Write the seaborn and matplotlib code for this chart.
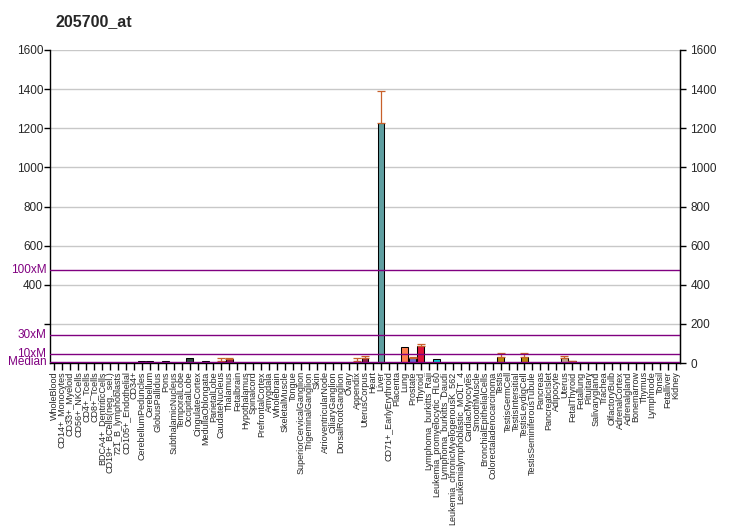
import matplotlib
matplotlib.use("Agg")
import matplotlib.pyplot as plt
import matplotlib.transforms as mtransforms
import seaborn as sns
import pandas as pd
import numpy as np

title = "205700_at"

tissues = [
    "WholeBlood", "CD14+_Monocytes", "CD33+_Myeloid", "CD56+_NKCells", "CD4+_Tcells",
    "CD8+_Tcells", "BDCA4+_DentriticCells", "CD19+_BCells(neg._sel.)", "721_B_lymphoblasts",
    "CD105+_Endothelial", "CD34+", "CerebellumPeduncles", "Cerebellum", "GlobusPallidus",
    "Pons", "SubthalamicNucleus", "TemporalLobe", "OccipitalLobe", "CingulateCortex",
    "MedullaOblongata", "ParietalLobe", "CaudateNucleus", "Thalamus", "Fetalbrain",
    "Hypothalamus", "Spinalcord", "PrefrontalCortex", "Amygdala", "Wholebrain",
    "SkeletalMuscle", "Tongue", "SuperiorCervicalGanglion", "TrigeminalGanglion", "Skin",
    "AtrioventricularNode", "CiliaryGanglion", "DorsalRootGanglion", "Ovary", "Appendix",
    "UterusCorpus", "Heart", "Liver", "CD71+_EarlyErythroid", "Placenta", "Lung",
    "Prostate", "Thyroid", "Lymphoma_burkitts_Raji", "Leukemia_promyelocytic_HL60",
    "Lymphoma_burkitts_Daudi", "Leukemia_chronicMyelogenousK_562",
    "Leukemialymphoblastic_MOLT_4", "CardiacMyocytes", "SmoothMuscle",
    "BronchialEpithelialCells", "Colorectaladenocarcinoma", "Testis", "TestisGermCell",
    "TestisIntersitial", "TestisLeydigCell", "TestisSeminiferousTubule", "Pancreas",
    "PancreaticIslet", "Adipocyte", "Uterus", "FetalThyroid", "Fetallung", "Pituitary",
    "Salivarygland", "Trachea", "OlfactoryBulb", "AdrenalCortex", "Adrenalgland",
    "Bonemarrow", "Thymus", "Lymphnode", "Tonsil", "Fetalliver", "Kidney",
]

values = [
    3, 3, 3, 3, 3,
    3, 3, 3, 3,
    3, 3, 8, 8, 3,
    8, 3, 3, 25, 3,
    8, 3, 12, 20, 3,
    3, 3, 3, 6, 6,
    3, 3, 3, 3, 3,
    3, 3, 3, 3, 10,
    27, 3, 1225, 3, 3, 80,
    27, 87, 5, 20,
    5, 3,
    3, 3, 3,
    3, 3, 30, 5,
    5, 30, 3, 3,
    3, 3, 27, 10, 5, 3,
    3, 3, 3, 3, 3,
    3, 3, 3, 3, 3, 3,
]

errors = [
    0, 0, 0, 0, 0,
    0, 0, 0, 0,
    0, 0, 0, 0, 0,
    0, 0, 0, 0, 0,
    0, 0, 13, 4, 0,
    0, 0, 0, 0, 0,
    0, 0, 0, 0, 0,
    0, 0, 0, 0, 14,
    10, 0, 165, 0, 0, 0,
    5, 10, 0, 0,
    0, 0,
    0, 0, 0,
    0, 0, 20, 0,
    0, 20, 0, 0,
    0, 0, 8, 2, 0, 0,
    0, 0, 0, 0, 0,
    0, 0, 0, 0, 0, 0,
]

colors = [
    "#8a2b8a", "#8a2b8a", "#8a2b8a", "#8a2b8a", "#8a2b8a",
    "#8a2b8a", "#8a2b8a", "#8a2b8a", "#8a2b8a",
    "#8a2b8a", "#8a2b8a", "#b5487f", "#b5487f", "#b5487f",
    "#b5487f", "#b5487f", "#b5487f", "#2e4a3e", "#b5487f",
    "#b5487f", "#b5487f", "#5a3a4a", "#8b1a3a", "#b5487f",
    "#b5487f", "#b5487f", "#b5487f", "#5a1a5a", "#5a1a5a",
    "#8a2b8a", "#8a2b8a", "#8a2b8a", "#8a2b8a", "#8a2b8a",
    "#8a2b8a", "#8a2b8a", "#8a2b8a", "#8a2b8a", "#9a2aa0",
    "#8b2040", "#8a2b8a", "#5f9ea0", "#8a2b8a", "#8a2b8a", "#ff7f50",
    "#6a6fd0", "#dc143c", "#5a1a5a", "#00ced1",
    "#5a1a5a", "#8a2b8a",
    "#8a2b8a", "#8a2b8a", "#8a2b8a",
    "#8a2b8a", "#8a2b8a", "#b8860b", "#5a1a5a",
    "#5a1a5a", "#b8860b", "#8a2b8a", "#8a2b8a",
    "#8a2b8a", "#8a2b8a", "#c0aa8a", "#b06030", "#8020a0", "#8a2b8a",
    "#8a2b8a", "#8a2b8a", "#8a2b8a", "#8a2b8a", "#8a2b8a",
    "#8a2b8a", "#8a2b8a", "#8a2b8a", "#8a2b8a", "#8a2b8a", "#8a2b8a",
]

median = 4.77
ref_names = ["100xM", "30xM", "10xM", "Median"]
ref_values = [100 * median, 30 * median, 10 * median, median]

left_ticks = [200, 400, 600, 800, 1000, 1200, 1400, 1600]
left_labels = ["", "400", "600", "800", "1000", "1200", "1400", "1600"]
right_ticks = [0, 200, 400, 600, 800, 1000, 1200, 1400, 1600]

sns.set_style("white")
plt.rcParams["font.family"] = ["Liberation Sans", "DejaVu Sans"]

df = pd.DataFrame({"tissue": tissues, "value": values, "err": errors})
palette = dict(zip(tissues, colors))

fig = plt.figure(figsize=(7.32, 5.30), dpi=100)
ax = fig.add_axes([50 / 732, 1 - 363 / 530, 630 / 732, 313 / 530])

ax.set_ylim(0, 1600)
for t in left_ticks:
    ax.axhline(t, color="#c8c8c8", lw=1, zorder=0)

sns.barplot(data=df, x="tissue", y="value", hue="tissue", palette=palette,
            order=tissues, hue_order=tissues, legend=False, dodge=False,
            width=0.85, edgecolor="black", linewidth=0.75, errorbar=None,
            ax=ax, zorder=2, saturation=1)

xpos = np.arange(len(tissues))
mask = df["err"].to_numpy() > 0
ax.errorbar(xpos[mask], df["value"].to_numpy()[mask],
            yerr=[np.zeros(mask.sum()), df["err"].to_numpy()[mask]],
            fmt="none", ecolor="#c8602a", elinewidth=0.9, capsize=3, capthick=0.9,
            zorder=3)

trans = mtransforms.blended_transform_factory(ax.transAxes, ax.transData)
for name, v in zip(ref_names, ref_values):
    ax.axhline(v, color="#800080", lw=1.0, zorder=4)
    ax.text(-0.006, v, name, transform=trans, ha="right", va="center",
            color="#800080", fontsize=8.5)

ax.set_xlim(-0.5, len(tissues) - 0.5)
ax.set_yticks(left_ticks)
ax.set_yticklabels(left_labels, fontsize=8.5)
ax.set_xticks(xpos)
ax.set_xticklabels(tissues, rotation=90, fontsize=6.5)
ax.set_xlabel("")
ax.set_ylabel("")
ax.tick_params(axis="both", direction="out", length=4, width=1, color="black",
               left=True, bottom=True, pad=1)
ax.tick_params(axis="x", length=5)

ax.spines["top"].set_visible(False)
for side in ["left", "right", "bottom"]:
    ax.spines[side].set_visible(True)
    ax.spines[side].set_color("black")
    ax.spines[side].set_linewidth(1)

ax2 = ax.twinx()
ax2.set_ylim(0, 1600)
ax2.set_yticks(right_ticks)
ax2.set_yticklabels([str(t) for t in right_ticks], fontsize=8.5)
ax2.tick_params(axis="y", direction="out", length=4, width=1, color="black", right=True)
ax2.spines["top"].set_visible(False)
ax2.spines["left"].set_visible(False)
ax2.spines["bottom"].set_visible(False)
ax2.spines["right"].set_color("black")
ax2.grid(False)

fig.text(55 / 732, 1 - 22 / 530, title, fontsize=11.5, fontweight="bold",
         ha="left", va="center")

fig.savefig("out.png", dpi=100)
